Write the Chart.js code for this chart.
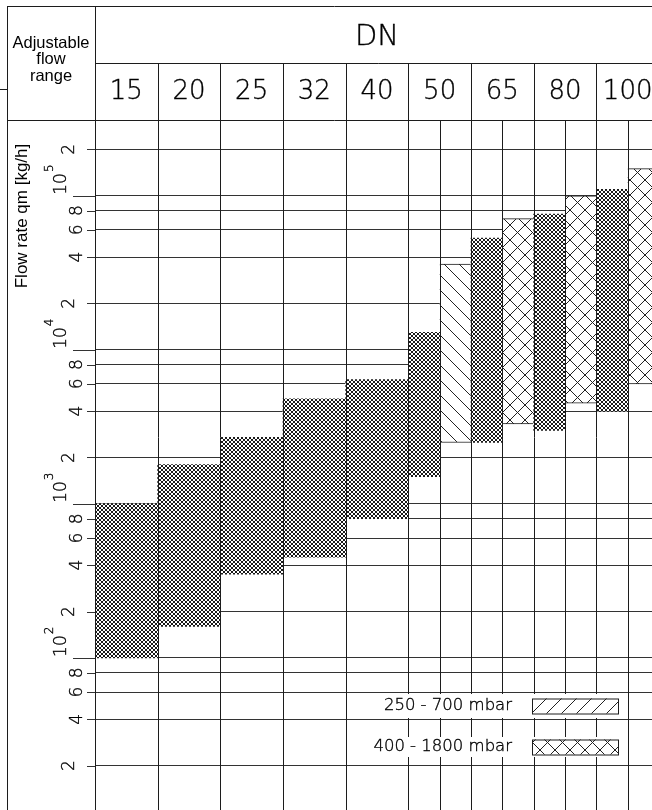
<!DOCTYPE html>
<html>
<head>
<meta charset="utf-8">
<script src="https://cdn.jsdelivr.net/npm/chart.js@4/dist/chart.umd.min.js"></script>
<style>
  html, body { margin: 0; padding: 0; background: #fff; overflow: hidden; width: 652px; height: 810px; }
  #wrap { position: absolute; left: 0; top: 0; width: 662px; height: 812px; }
</style>
</head>
<body>
<div id="wrap"><canvas id="c" width="662" height="812"></canvas></div>
<script>
// Nominal sizes (DN) along the top
const nominalSizes = ['15', '20', '25', '32', '40', '50', '65', '80', '100'];

// Flow range per size, fine mesh fill [kg/h]
const meshLow  = [100, 160, 350, 450, 800, 1500, 2500, 3000, 4000];
const meshHigh = [1000, 1800, 2700, 4800, 6400, 13000, 53000, 76000, 110000];

// 250 - 700 mbar range [kg/h]
const lowPressLow  = [null, null, null, null, null, 2500, null, null, null];
const lowPressHigh = [null, null, null, null, null, 36000, null, null, null];

// 400 - 1800 mbar range [kg/h]
const highPressLow  = [null, null, null, null, null, null, 3300, 4500, 6000];
const highPressHigh = [null, null, null, null, null, null, 71000, 100000, 150000];

// Horizontal rulings on the log axis
const gridValues = [20, 40, 60, 80, 100, 200, 400, 600, 800, 1000, 2000, 4000, 6000, 8000,
                    10000, 20000, 40000, 60000, 80000, 100000, 200000];

const legendLabels = ['250 - 700 mbar', '400 - 1800 mbar'];

const TECH = '"DejaVu Sans"';
const SANS = '"Liberation Sans", Arial, sans-serif';
const INK = '#1c1c1c';

function tile(size, draw) {
  const c = document.createElement('canvas');
  c.width = size; c.height = size;
  const g = c.getContext('2d');
  draw(g, size);
  return document.getElementById('c').getContext('2d').createPattern(c, 'repeat');
}

// fine cross mesh
const meshPattern = tile(4, (g, s) => {
  g.fillStyle = '#fff'; g.fillRect(0, 0, s, s);
  g.fillStyle = '#1a1a1a';
  for (let i = 0; i < s; i++) { g.fillRect(i, i, 1, 1); g.fillRect(s - 1 - i, i, 1, 1); }
});

function diagTile(back, fwd) {
  return tile(15, (g, s) => {
    g.fillStyle = '#fff'; g.fillRect(0, 0, s, s);
    g.strokeStyle = '#222'; g.lineWidth = 1;
    g.beginPath();
    for (let k = -1; k <= 1; k++) {
      if (back) { g.moveTo(k * s, 0); g.lineTo(k * s + s, s); }
      if (fwd)  { g.moveTo(k * s, s); g.lineTo(k * s + s, 0); }
    }
    g.stroke();
  });
}
const backHatch = diagTile(true, false);
const fwdHatch = diagTile(false, true);
const crossHatch = diagTile(true, true);

function pairs(lo, hi) { return lo.map((v, i) => (v == null || hi[i] == null) ? null : [v, hi[i]]); }

// thin technical lettering, slightly darkened
function techText(ctx, text, x, y, size) {
  ctx.font = '200 ' + size + 'px ' + TECH;
  ctx.fillText(text, x, y);
  ctx.lineWidth = 0.35;
  ctx.strokeText(text, x, y);
}

const framePlugin = {
  id: 'frame',
  afterDatasetsDraw(chart) {
    const ctx = chart.ctx;
    const xs = chart.scales.x, ys = chart.scales.y;
    const area = chart.chartArea;
    const H = chart.height;
    const n = nominalSizes.length;
    const centers = nominalSizes.map((_, i) => xs.getPixelForValue(i));
    const half = (centers[1] - centers[0]) / 2;
    const px = v => Math.round(v) + 0.5;

    ctx.save();
    ctx.strokeStyle = INK;
    ctx.lineWidth = 1;

    // column rules
    ctx.beginPath();
    for (let i = 0; i <= n; i++) {
      const x = px(i < n ? centers[i] - half : centers[n - 1] + half);
      ctx.moveTo(x, i === 0 ? 6 : 63);
      ctx.lineTo(x, H);
    }
    // split rules where a size carries two ranges
    nominalSizes.forEach((_, i) => {
      if (lowPressHigh[i] != null || highPressHigh[i] != null) {
        const x = px(centers[i]);
        ctx.moveTo(x, area.top); ctx.lineTo(x, H);
      }
    });
    // header frame
    ctx.moveTo(7, 6.5); ctx.lineTo(chart.width, 6.5);
    ctx.moveTo(px(area.left), 63.5); ctx.lineTo(chart.width, 63.5);
    ctx.moveTo(7, 120.5); ctx.lineTo(chart.width, 120.5);
    ctx.moveTo(7.5, 6); ctx.lineTo(7.5, H);
    ctx.moveTo(0, 89.5); ctx.lineTo(7, 89.5);
    ctx.stroke();

    // axis tick marks left of the plot
    ctx.strokeStyle = '#333';
    ctx.beginPath();
    gridValues.forEach(v => {
      const y = px(ys.getPixelForValue(v));
      const m = v / Math.pow(10, Math.floor(Math.log10(v) + 1e-9));
      const len = Math.abs(m - 1) < 1e-6 ? 22 : 8;
      ctx.moveTo(area.left - len, y); ctx.lineTo(area.left, y);
    });
    ctx.stroke();

    ctx.fillStyle = '#000';
    ctx.strokeStyle = '#000';
    // header texts
    ctx.textAlign = 'center';
    ctx.textBaseline = 'middle';
    ctx.font = '16.5px ' + SANS;
    ctx.fillText('Adjustable', 51, 43);
    ctx.fillText('flow', 51, 59);
    ctx.fillText('range', 51, 76);

    techText(ctx, 'DN', (centers[0] - half + centers[n - 1] + half) / 2, 37, 29);
    nominalSizes.forEach((s, i) => techText(ctx, s, centers[i], 92, 26));

    // axis title
    ctx.save();
    ctx.translate(22, 216);
    ctx.rotate(-Math.PI / 2);
    ctx.font = '17px ' + SANS;
    ctx.fillText('Flow rate qm [kg/h]', 0, 0);
    ctx.restore();

    // rotated tick labels
    gridValues.forEach(v => {
      const y = ys.getPixelForValue(v);
      const e = Math.floor(Math.log10(v) + 1e-9);
      const m = Math.round(v / Math.pow(10, e));
      ctx.save();
      if (m === 1) {
        ctx.translate(62, y);
        ctx.rotate(-Math.PI / 2);
        ctx.textAlign = 'left';
        techText(ctx, '10', 1, 0, 17);
        ctx.font = '200 17px ' + TECH;
        const w = ctx.measureText('10').width;
        techText(ctx, String(e), w + 2, -12, 12);
      } else {
        ctx.translate(m === 2 ? 70 : 78, y);
        ctx.rotate(-Math.PI / 2);
        techText(ctx, String(m), 0, 0, 17);
      }
      ctx.restore();
    });

    // legend
    const rows = [
      { label: legendLabels[0], top: 694, bottom: 718, fill: fwdHatch },
      { label: legendLabels[1], top: 737, bottom: 757, fill: crossHatch }
    ];
    rows.forEach(r => {
      ctx.fillStyle = '#fff';
      ctx.fillRect(372, r.top, 250, r.bottom - r.top);
      const cy = (r.top + r.bottom) / 2;
      ctx.fillStyle = r.fill;
      ctx.fillRect(532, cy - 7.5, 86, 15);
      ctx.strokeStyle = INK;
      ctx.lineWidth = 1;
      ctx.strokeRect(532.5, cy - 7, 86, 15);
      ctx.fillStyle = '#000';
      ctx.strokeStyle = '#000';
      ctx.textAlign = 'right';
      techText(ctx, r.label, 512, cy, 16.5);
    });
    ctx.restore();
  }
};

new Chart(document.getElementById('c'), {
  type: 'bar',
  data: {
    labels: nominalSizes,
    datasets: [
      { label: 'mesh', data: pairs(meshLow, meshHigh), backgroundColor: meshPattern, borderWidth: 0 },
      { label: legendLabels[0], data: pairs(lowPressLow, lowPressHigh), backgroundColor: backHatch,
        borderColor: INK, borderSkipped: false, borderWidth: { top: 1, bottom: 1, left: 0, right: 0 } },
      { label: legendLabels[1], data: pairs(highPressLow, highPressHigh), backgroundColor: crossHatch,
        borderColor: INK, borderSkipped: false, borderWidth: { top: 1, bottom: 1, left: 0, right: 0 } }
    ]
  },
  options: {
    responsive: false,
    animation: false,
    layout: { padding: { left: 95, right: 3, top: 120, bottom: 0 } },
    datasets: { bar: { categoryPercentage: 1, barPercentage: 1, skipNull: true } },
    plugins: { legend: { display: false }, tooltip: { enabled: false } },
    scales: {
      x: {
        type: 'category', offset: true,
        grid: { display: false }, border: { display: false }, ticks: { display: false },
        afterFit: s => { s.height = 0; }
      },
      y: {
        type: 'logarithmic', min: 10, max: 310000,
        ticks: { display: false },
        grid: { color: '#333', lineWidth: 1, drawTicks: false },
        border: { display: false },
        afterFit: s => { s.width = 0; },
        afterBuildTicks: s => { s.ticks = gridValues.map(v => ({ value: v })); }
      }
    }
  },
  plugins: [framePlugin]
});
</script>
</body>
</html>
